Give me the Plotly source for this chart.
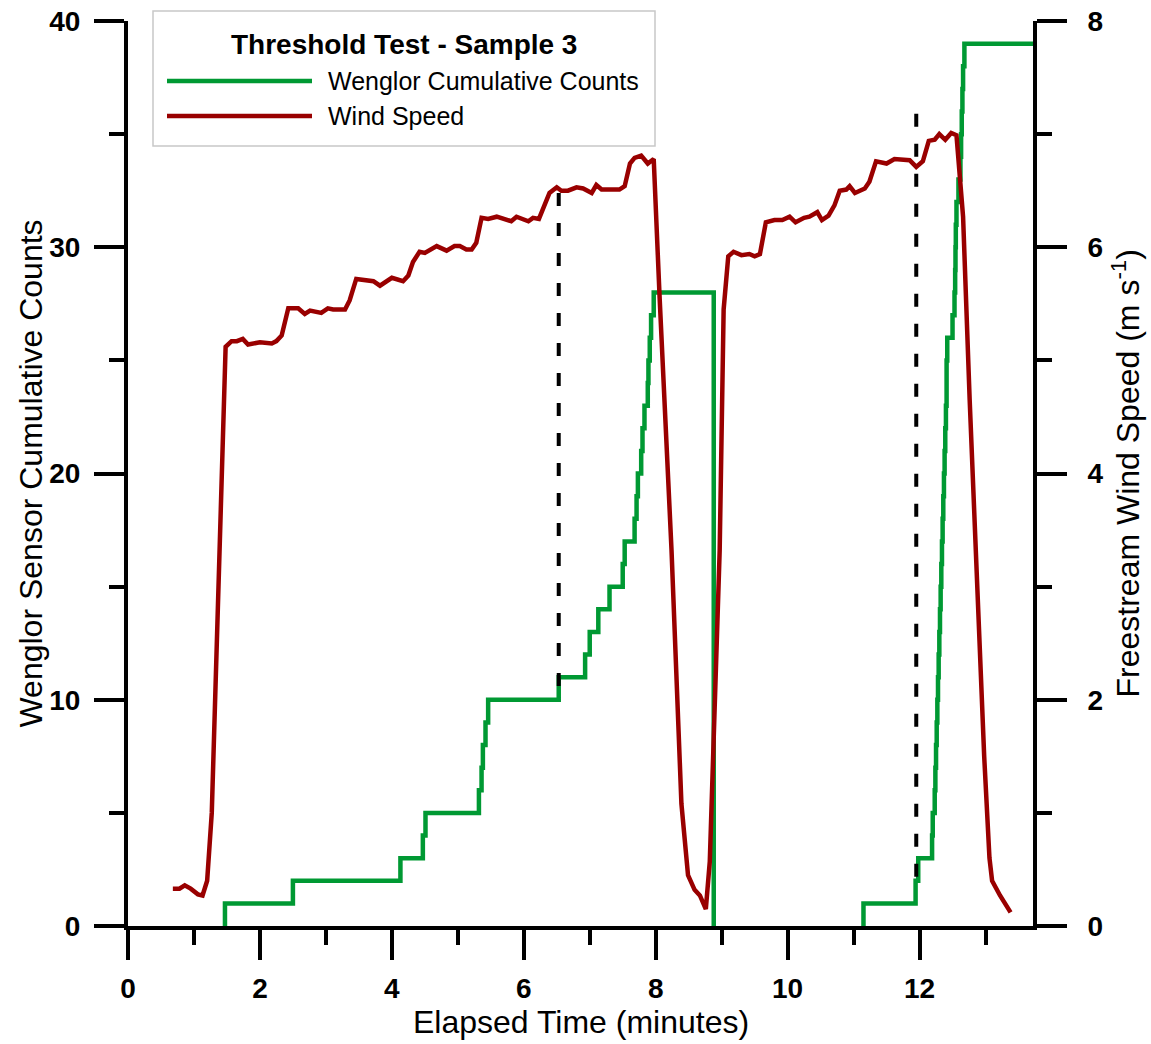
import plotly.graph_objects as go

# ---- Wenglor sensor cumulative counts ----
# times (minutes) at which the cumulative count steps up, per run
run1_time = [1.47, 2.50, 4.13, 4.47, 4.51, 5.32, 5.36, 5.38, 5.42, 5.46,
             6.53, 6.93, 7.00, 7.13, 7.30, 7.50, 7.53, 7.68, 7.71, 7.73,
             7.78, 7.80, 7.83, 7.88, 7.89, 7.91, 7.93, 7.97]
run1_count = [1, 2, 3, 4, 5, 6, 7, 8, 9, 10,
              11, 12, 13, 14, 15, 16, 17, 18, 19, 20,
              21, 22, 23, 24, 25, 26, 27, 28]
run1_reset = 8.88

run2_time = [11.15, 11.94, 11.98, 12.19, 12.20, 12.23, 12.24, 12.25, 12.26, 12.27,
             12.28, 12.29, 12.30, 12.31, 12.32, 12.33, 12.34, 12.35, 12.36, 12.37,
             12.38, 12.39, 12.40, 12.41, 12.41, 12.42, 12.50, 12.53, 12.54, 12.545,
             12.55, 12.56, 12.59, 12.62, 12.63, 12.64, 12.65, 12.66, 12.68]
run2_count = [1, 2, 3, 4, 5, 6, 7, 8, 9, 10,
              11, 12, 13, 14, 15, 16, 17, 18, 19, 20,
              21, 22, 23, 24, 25, 26, 27, 28, 29, 30,
              31, 32, 33, 34, 35, 36, 37, 38, 39]
record_end = 13.72

# ---- Freestream wind speed (m/s) ----
wind_time = [0.68, 0.78, 0.86, 0.95, 1.06, 1.13, 1.20, 1.27, 1.48, 1.57, 1.65,
             1.74, 1.82, 2.00, 2.18, 2.25, 2.33, 2.43, 2.58, 2.68, 2.76, 2.93,
             3.03, 3.11, 3.29, 3.36, 3.46, 3.57, 3.72, 3.82, 4.00, 4.17, 4.25,
             4.32, 4.42, 4.50, 4.68, 4.83, 4.95, 5.03, 5.13, 5.21, 5.28, 5.36,
             5.46, 5.59, 5.81, 5.89, 6.07, 6.14, 6.23, 6.39, 6.50, 6.57, 6.67,
             6.80, 6.90, 7.03, 7.10, 7.18, 7.45, 7.53, 7.61, 7.68, 7.78, 7.88,
             7.97, 8.06, 8.24, 8.39, 8.49, 8.59, 8.67, 8.76, 8.82, 8.97, 9.03,
             9.10, 9.18, 9.30, 9.42, 9.50, 9.58, 9.67, 9.80, 9.92, 10.03, 10.12,
             10.25, 10.33, 10.45, 10.52, 10.62, 10.71, 10.79, 10.89, 10.94, 11.02,
             11.17, 11.24, 11.34, 11.50, 11.62, 11.85, 11.95, 12.05, 12.14, 12.23,
             12.30, 12.39, 12.48, 12.56, 12.66, 12.76, 12.88, 12.98, 13.06, 13.10,
             13.22, 13.38]
wind_speed = [0.33, 0.33, 0.36, 0.33, 0.28, 0.27, 0.40, 1.00, 5.12, 5.17, 5.17,
              5.19, 5.14, 5.16, 5.15, 5.17, 5.22, 5.46, 5.46, 5.41, 5.44, 5.42,
              5.46, 5.45, 5.45, 5.53, 5.72, 5.71, 5.70, 5.66, 5.73, 5.70, 5.75,
              5.87, 5.96, 5.95, 6.01, 5.97, 6.01, 6.01, 5.98, 5.98, 6.04, 6.26,
              6.25, 6.27, 6.23, 6.27, 6.23, 6.26, 6.25, 6.48, 6.53, 6.50, 6.50,
              6.53, 6.52, 6.48, 6.55, 6.51, 6.51, 6.54, 6.74, 6.79, 6.81, 6.74,
              6.78, 5.55, 3.32, 1.08, 0.45, 0.32, 0.27, 0.15, 0.57, 3.32, 5.45,
              5.92, 5.96, 5.93, 5.94, 5.92, 5.94, 6.22, 6.24, 6.24, 6.27, 6.22,
              6.26, 6.27, 6.31, 6.24, 6.28, 6.37, 6.50, 6.51, 6.54, 6.48,
              6.52, 6.58, 6.76, 6.74, 6.78, 6.77, 6.71, 6.76, 6.94, 6.95,
              7.00, 6.95, 7.01, 6.99, 6.27, 4.65, 2.90, 1.50, 0.60, 0.40,
              0.27, 0.12]

# ---- Threshold markers (left-axis units) ----
threshold_time = [6.53, 11.95]
threshold_low = [10.3, 2.1]
threshold_high = [32.4, 35.9]

GREEN = "#009933"
RED = "#990000"
FONT = "Liberation Sans, Arial, sans-serif"

# assemble the step series: rise from zero at the first event, step up at each
# event time, drop to zero at the reset; the idle period sits on the axis so
# the trace is broken there, and the final count is held to the end
step_x = ([run1_time[0]] + run1_time + [run1_reset, None]
          + [run2_time[0]] + run2_time + [record_end])
step_y = ([0] + run1_count + [0, None]
          + [0] + run2_count + [run2_count[-1]])

fig = go.Figure()

fig.add_trace(go.Scatter(
    x=step_x, y=step_y, mode="lines", line_shape="hv", connectgaps=False,
    line=dict(color=GREEN, width=4.5), name="Wenglor Cumulative Counts",
    showlegend=False, yaxis="y"))

fig.add_trace(go.Scatter(
    x=wind_time, y=wind_speed, mode="lines",
    line=dict(color=RED, width=4.5), name="Wind Speed",
    showlegend=False, yaxis="y2"))

for t, lo, hi in zip(threshold_time, threshold_low, threshold_high):
    fig.add_trace(go.Scatter(
        x=[t, t], y=[hi, lo], mode="lines",
        line=dict(color="black", width=4, dash="13px,17px"),
        showlegend=False, hoverinfo="skip", yaxis="y"))

tick_font = dict(family=FONT, size=28, color="black", weight="bold")


def axis_style(vals, minor_vals, standoff):
    return dict(
        showgrid=False, zeroline=False, automargin=False,
        showline=True, linecolor="black", linewidth=4,
        ticks="outside", ticklen=30, tickwidth=4, tickcolor="black",
        tickvals=vals, tickfont=tick_font, ticklabelstandoff=standoff,
        minor=dict(tickvals=minor_vals, ticks="outside",
                   ticklen=15, tickwidth=4, tickcolor="black"),
    )


fig.update_layout(
    width=1151, height=1044,
    margin=dict(l=128, r=118, t=21, b=118, autoexpand=False),
    paper_bgcolor="white", plot_bgcolor="white",
    font=dict(family=FONT, color="black"),
    xaxis=dict(range=[0, 13.72],
               **axis_style([0, 2, 4, 6, 8, 10, 12], [1, 3, 5, 7, 9, 11, 13], 4)),
    yaxis=dict(range=[0, 40],
               **axis_style([0, 10, 20, 30, 40], [5, 15, 25, 35], 8)),
    yaxis2=dict(range=[0, 8], overlaying="y", side="right", anchor="x",
                **axis_style([0, 2, 4, 6, 8], [1, 3, 5, 7], 15)),
)

# axis titles
title_font = dict(family=FONT, size=32, color="black")
fig.add_annotation(text="Elapsed Time (minutes)", xref="paper", yref="paper",
                   x=0.5, y=(926 - 1022) / 905, xanchor="center", yanchor="middle",
                   showarrow=False, font=title_font)
fig.add_annotation(text="Wenglor Sensor Cumulative Counts", xref="paper", yref="paper",
                   x=(30 - 128) / 905, y=0.5, xanchor="center", yanchor="middle",
                   textangle=-90, showarrow=False, font=title_font)
fig.add_annotation(text="Freestream Wind Speed (m s<sup>-1</sup>)", xref="paper", yref="paper",
                   x=(1125 - 128) / 905, y=0.5, xanchor="center", yanchor="middle",
                   textangle=-90, showarrow=False, font=title_font)


# legend box, positioned in pixels relative to the plot area
def px_x(p):
    return (p - 128) / 905


def px_y(p):
    return (926 - p) / 905


fig.add_shape(type="rect", xref="paper", yref="paper",
              x0=px_x(153), x1=px_x(655), y0=px_y(146), y1=px_y(11),
              line=dict(color="#c8c8c8", width=1.5), fillcolor="white", layer="below")
fig.add_annotation(text="<b>Threshold Test - Sample 3</b>", xref="paper", yref="paper",
                   x=px_x(404), y=px_y(44), xanchor="center", yanchor="middle",
                   showarrow=False, font=dict(family=FONT, size=28, color="black"))
for ypix, color, label in [(81, GREEN, "Wenglor Cumulative Counts"), (116, RED, "Wind Speed")]:
    fig.add_shape(type="line", xref="paper", yref="paper",
                  x0=px_x(167), x1=px_x(312), y0=px_y(ypix), y1=px_y(ypix),
                  line=dict(color=color, width=4.5))
    fig.add_annotation(text=label, xref="paper", yref="paper",
                       x=px_x(326), y=px_y(ypix), xanchor="left", yanchor="middle",
                       showarrow=False, font=dict(family=FONT, size=25, color="black"))

fig.write_html("out.html")
